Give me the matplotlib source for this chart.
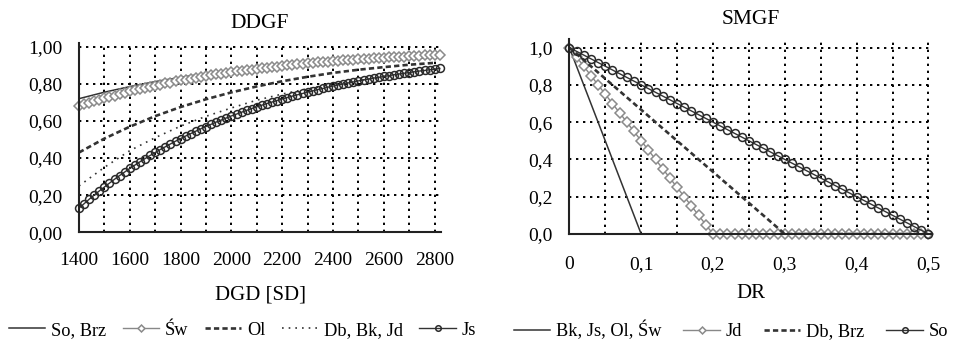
import matplotlib
matplotlib.use('Agg')
import matplotlib.pyplot as plt
from matplotlib.ticker import MultipleLocator, FuncFormatter

plt.rcParams['font.family'] = ['Liberation Serif', 'DejaVu Serif']
plt.rcParams['font.size'] = 14

# --- DDGF (lewy wykres) ---
dgd = [1400, 1420, 1440, 1460, 1480, 1500, 1520, 1540, 1560, 1580,
       1600, 1620, 1640, 1660, 1680, 1700, 1720, 1740, 1760, 1780,
       1800, 1820, 1840, 1860, 1880, 1900, 1920, 1940, 1960, 1980,
       2000, 2020, 2040, 2060, 2080, 2100, 2120, 2140, 2160, 2180,
       2200, 2220, 2240, 2260, 2280, 2300, 2320, 2340, 2360, 2380,
       2400, 2420, 2440, 2460, 2480, 2500, 2520, 2540, 2560, 2580,
       2600, 2620, 2640, 2660, 2680, 2700, 2720, 2740, 2760, 2780,
       2800, 2820]
js = [0.130, 0.154, 0.178, 0.201, 0.223, 0.244, 0.265, 0.286, 0.306, 0.325,
      0.344, 0.362, 0.380, 0.397, 0.414, 0.430, 0.446, 0.461, 0.476, 0.491,
      0.505, 0.519, 0.532, 0.545, 0.558, 0.570, 0.582, 0.594, 0.605, 0.616,
      0.627, 0.637, 0.647, 0.657, 0.667, 0.676, 0.685, 0.694, 0.702, 0.710,
      0.718, 0.726, 0.734, 0.741, 0.748, 0.755, 0.762, 0.769, 0.775, 0.782,
      0.788, 0.794, 0.799, 0.805, 0.810, 0.816, 0.821, 0.826, 0.831, 0.835,
      0.840, 0.844, 0.849, 0.853, 0.857, 0.861, 0.865, 0.869, 0.872, 0.876,
      0.879, 0.883]
sw = [0.680, 0.689, 0.698, 0.706, 0.714, 0.722, 0.730, 0.737, 0.745, 0.752,
      0.759, 0.765, 0.772, 0.778, 0.784, 0.790, 0.796, 0.802, 0.807, 0.813,
      0.818, 0.823, 0.828, 0.833, 0.837, 0.842, 0.846, 0.851, 0.855, 0.859,
      0.863, 0.867, 0.870, 0.874, 0.877, 0.881, 0.884, 0.887, 0.890, 0.893,
      0.896, 0.899, 0.902, 0.905, 0.907, 0.910, 0.913, 0.915, 0.917, 0.920,
      0.922, 0.924, 0.926, 0.928, 0.930, 0.932, 0.934, 0.936, 0.938, 0.939,
      0.941, 0.943, 0.944, 0.946, 0.947, 0.949, 0.950, 0.952, 0.953, 0.954,
      0.956, 0.957]

dgd_lines = [1400, 1500, 1600, 1700, 1800, 1900, 2000, 2100,
             2200, 2300, 2400, 2500, 2600, 2700, 2800]
so_brz = [0.720, 0.755, 0.785, 0.812, 0.835, 0.855, 0.870, 0.880,
          0.890, 0.900, 0.910, 0.919, 0.928, 0.936, 0.944]
ol = [0.430, 0.505, 0.569, 0.626, 0.675, 0.717, 0.754, 0.786,
      0.814, 0.838, 0.859, 0.876, 0.890, 0.903, 0.913]
db_bk_jd = [0.250, 0.350, 0.440, 0.510, 0.572, 0.625, 0.670, 0.712,
            0.745, 0.773, 0.797, 0.818, 0.836, 0.853, 0.868]

# --- SMGF (prawy wykres) ---
dr = [0.00, 0.01, 0.02, 0.03, 0.04, 0.05, 0.06, 0.07, 0.08, 0.09,
      0.10, 0.11, 0.12, 0.13, 0.14, 0.15, 0.16, 0.17, 0.18, 0.19,
      0.20, 0.21, 0.22, 0.23, 0.24, 0.25, 0.26, 0.27, 0.28, 0.29,
      0.30, 0.31, 0.32, 0.33, 0.34, 0.35, 0.36, 0.37, 0.38, 0.39,
      0.40, 0.41, 0.42, 0.43, 0.44, 0.45, 0.46, 0.47, 0.48, 0.49,
      0.50]
so_smgf = [1.00, 0.98, 0.96, 0.94, 0.92, 0.90, 0.88, 0.86, 0.84, 0.82,
           0.80, 0.78, 0.76, 0.74, 0.72, 0.70, 0.68, 0.66, 0.64, 0.62,
           0.60, 0.58, 0.56, 0.54, 0.52, 0.50, 0.48, 0.46, 0.44, 0.42,
           0.40, 0.38, 0.36, 0.34, 0.32, 0.30, 0.28, 0.26, 0.24, 0.22,
           0.20, 0.18, 0.16, 0.14, 0.12, 0.10, 0.08, 0.06, 0.04, 0.02,
           0.00]
jd = [1.00, 0.95, 0.90, 0.85, 0.80, 0.75, 0.70, 0.65, 0.60, 0.55,
      0.50, 0.45, 0.40, 0.35, 0.30, 0.25, 0.20, 0.15, 0.10, 0.05,
      0.00, 0.00, 0.00, 0.00, 0.00, 0.00, 0.00, 0.00, 0.00, 0.00,
      0.00, 0.00, 0.00, 0.00, 0.00, 0.00, 0.00, 0.00, 0.00, 0.00,
      0.00, 0.00, 0.00, 0.00, 0.00, 0.00, 0.00, 0.00, 0.00, 0.00,
      0.00]
dr_bk = [0.0, 0.1, 0.5]
bk_js_ol_sw = [1.0, 0.0, 0.0]
dr_db = [0.0, 0.3, 0.5]
db_brz = [1.0, 0.0, 0.0]

grid_style = dict(color='black', linestyle=(0, (1.2, 2.4)), linewidth=1.4)


def style_axes(ax):
    for s in ['top', 'right']:
        ax.spines[s].set_visible(False)
    for s in ['left', 'bottom']:
        ax.spines[s].set_linewidth(1.5)
        ax.spines[s].set_color('#222222')
    ax.tick_params(which='both', length=0, pad=12, labelsize=14)
    ax.grid(True, which='both', **grid_style)
    ax.set_axisbelow(True)


fig = plt.figure(figsize=(9.54, 3.44), dpi=100)

# lewy
ax1 = fig.add_axes([0.0828, 0.3247, 0.3795, 0.5503])
ax1.plot(dgd_lines, so_brz, color='#333333', lw=1.1, label='So, Brz')
ax1.plot(dgd_lines, ol, color='#333333', lw=1.9, dashes=(2, 1.2), label='Ol')
ax1.plot(dgd_lines, db_bk_jd, color='#333333', lw=1.2, linestyle=(0, (1, 3)),
         label='Db, Bk, Jd')
ax1.plot(dgd, sw, color='#888888', lw=1.0, marker='D', ms=5.0, mfc='white',
         mec='#8a8a8a', mew=1.1, label='Św', clip_on=False)
ax1.plot(dgd, js, color='#333333', lw=1.0, marker='o', ms=5.7, mfc='none',
         mec='#2a2a2a', mew=1.1, label='Js', clip_on=False)
ax1.set_xlim(1400, 2825)
ax1.set_ylim(0, 1.02)
ax1.xaxis.set_major_locator(MultipleLocator(200))
ax1.xaxis.set_minor_locator(MultipleLocator(100))
ax1.yaxis.set_major_locator(MultipleLocator(0.2))
ax1.yaxis.set_major_formatter(FuncFormatter(lambda v, p: f'{v:.2f}'.replace('.', ',')))
style_axes(ax1)
ax1.tick_params(axis='x', pad=14)
ax1.set_title('DDGF', fontsize=15.5, pad=11)
ax1.set_xlabel('DGD [SD]', fontsize=15, labelpad=12)

# prawy
ax2 = fig.add_axes([0.5968, 0.3198, 0.3802, 0.5662])
ax2.plot(dr_bk, bk_js_ol_sw, color='#333333', lw=1.1, label='Bk, Js, Ol, Św')
ax2.plot(dr, jd, color='#888888', lw=1.0, marker='D', ms=5.0, mfc='white',
         mec='#8a8a8a', mew=1.1, label='Jd', clip_on=False)
ax2.plot(dr_db, db_brz, color='#333333', lw=1.9, dashes=(2, 1.2), label='Db, Brz')
ax2.plot(dr, so_smgf, color='#333333', lw=1.0, marker='o', ms=5.7, mfc='none',
         mec='#2a2a2a', mew=1.1, label='So', clip_on=False)
ax2.set_xlim(0, 0.505)
ax2.set_ylim(0, 1.045)
ax2.xaxis.set_major_locator(MultipleLocator(0.1))
ax2.xaxis.set_minor_locator(MultipleLocator(0.05))
ax2.yaxis.set_major_locator(MultipleLocator(0.2))
ax2.xaxis.set_major_formatter(FuncFormatter(
    lambda v, p: '0' if abs(v) < 1e-9 else f'{v:.1f}'.replace('.', ',')))
ax2.yaxis.set_major_formatter(FuncFormatter(lambda v, p: f'{v:.1f}'.replace('.', ',')))
style_axes(ax2)
ax2.tick_params(axis='x', pad=16)
ax2.set_title('SMGF', fontsize=15.5, pad=11)
ax2.set_xlabel('DR', fontsize=15, labelpad=8)

# legendy
h1, l1 = ax1.get_legend_handles_labels()
order1 = [0, 3, 1, 2, 4]
fig.legend([h1[i] for i in order1], [l1[i] for i in order1],
           loc='center', bbox_to_anchor=(0.254, 0.04), ncol=5,
           frameon=False, fontsize=13.2, handlelength=2.0,
           handletextpad=0.3, columnspacing=0.9, markerscale=0.7)
h2, l2 = ax2.get_legend_handles_labels()
fig.legend(h2, l2, loc='center', bbox_to_anchor=(0.766, 0.04), ncol=4,
           frameon=False, fontsize=13.2, handlelength=2.0,
           handletextpad=0.3, columnspacing=1.2, markerscale=0.7)

fig.savefig('out.png', dpi=100)
